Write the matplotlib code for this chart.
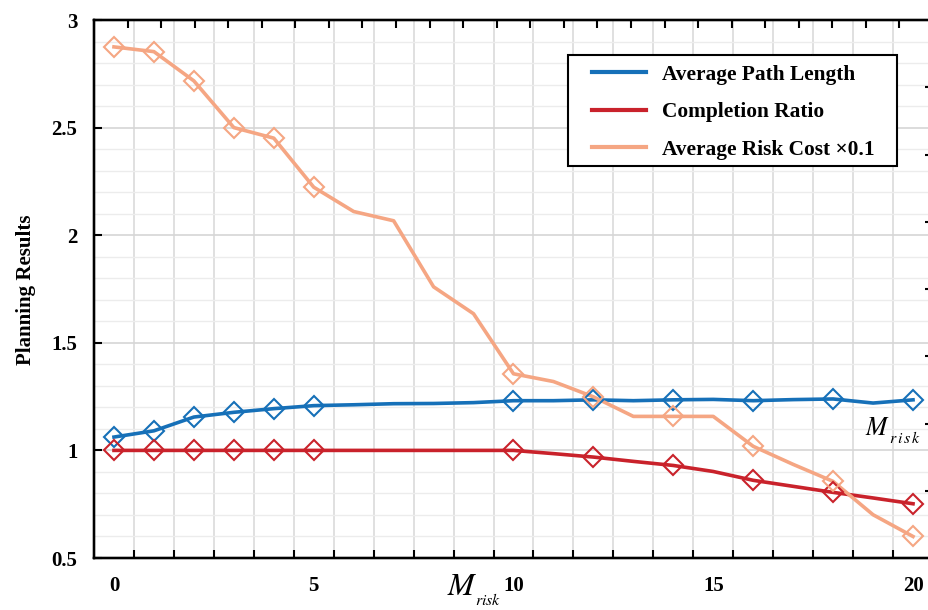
import numpy as np
import matplotlib
matplotlib.use("Agg")
import matplotlib.pyplot as plt
from matplotlib.patches import Rectangle

plt.rcParams['font.family'] = ['Liberation Serif', 'DejaVu Serif']
plt.rcParams['mathtext.fontset'] = 'stix'

# M_risk values and the three planning metrics
m_risk = list(range(21))
path_len = [1.062, 1.091, 1.155, 1.177, 1.194, 1.208, 1.212, 1.217, 1.218, 1.222, 1.231,
            1.231, 1.235, 1.231, 1.235, 1.237, 1.231, 1.236, 1.239, 1.220, 1.235]
completion = [1.0, 1.0, 1.0, 1.0, 1.0, 1.0, 1.0, 1.0, 1.0, 1.0, 1.0,
              0.985, 0.969, 0.949, 0.930, 0.902, 0.861, 0.833, 0.805, 0.779, 0.752]
risk_cost = [2.875, 2.853, 2.717, 2.50, 2.451, 2.223, 2.110, 2.067, 1.760, 1.635, 1.356,
             1.320, 1.249, 1.158, 1.158, 1.158, 1.019, 0.935, 0.856, 0.701, 0.600]
marker_idx = [0, 1, 2, 3, 4, 5, 10, 12, 14, 16, 18, 20]

series = [
    ('Average Path Length', path_len, '#1670b8'),
    ('Completion Ratio', completion, '#c9222b'),
    ('Average Risk Cost ×0.1', risk_cost, '#f5a683'),
]

fig = plt.figure(figsize=(9.29, 6.10), dpi=100)
ax = fig.add_axes([94 / 929, 1 - 558 / 610, (933 - 94) / 929, (558 - 20) / 610])

for name, vals, col in series:
    ax.plot(m_risk, vals, color=col, lw=2.6, label=name, zorder=3)
    ax.plot([m_risk[i] for i in marker_idx], [vals[i] for i in marker_idx], 'D',
            ms=10.5, mfc='none', mec=col, mew=1.5, zorder=4)

ax.set_xlim(-0.5, 20.5)
ax.set_ylim(0.5, 3)
ax.set_xticks([0, 5, 10, 15, 20])
ax.set_xticks(np.arange(0.5, 20.5, 1), minor=True)
ax.set_yticks([0.5, 1, 1.5, 2, 2.5, 3])
ax.set_yticklabels(['0.5', '1', '1.5', '2', '2.5', '3'])
ax.set_yticks(np.arange(0.5, 3.0, 0.1), minor=True)

ax.tick_params(axis='x', which='major', length=0, pad=13, labelsize=15)
ax.tick_params(axis='x', which='minor', direction='in', length=6, width=1.5, top=False)
ax.tick_params(axis='y', which='major', direction='in', length=6, width=1.5, pad=12, labelsize=15)
ax.tick_params(axis='y', which='minor', length=0)
for lab in ax.get_xticklabels() + ax.get_yticklabels():
    lab.set_fontweight('bold')

ax.grid(which='minor', axis='x', color='#dadada', lw=1.2, zorder=0)
ax.grid(which='major', axis='y', color='#d6d6d6', lw=1.2, zorder=0)
ax.grid(which='minor', axis='y', color='#ececec', lw=1.0, zorder=0)
ax.set_axisbelow(True)
for sp in ax.spines.values():
    sp.set_linewidth(1.6)

# extra tick rows on top and right
ax_top = ax.twiny()
ax_top.set_xlim(0, 25)
ax_top.set_xticks(range(1, 25))
ax_top.tick_params(axis='x', direction='in', length=6, width=1.5, labeltop=False)
ax_right = ax.twinx()
ax_right.set_ylim(0, 8)
ax_right.set_yticks(range(1, 8))
ax_right.tick_params(axis='y', direction='in', length=6, width=1.5, labelright=False)
for a in (ax_top, ax_right):
    for sp in a.spines.values():
        sp.set_linewidth(1.6)

# axis titles
fig.text(26 / 929, 1 - 290 / 610, 'Planning Results', rotation=90, fontsize=15,
         fontweight='bold', ha='center', va='center')
fig.text(447 / 929, 1 - 595 / 610, r'$M$', fontsize=23, ha='left', va='baseline')
fig.text(475 / 929, 1 - 605 / 610, r'$risk$', fontsize=11.5, ha='left', va='baseline')
ax.text(18.8, 1.073, r'$M$', fontsize=18.5, ha='left', va='baseline', zorder=5)
ax.text(19.4, 1.035, r'$r\,i\,s\,k$', fontsize=11.5, ha='left', va='baseline', zorder=5)

# legend frame drawn separately so its padding can be set freely
ax.add_patch(Rectangle((0.565, 0.7286), 0.392, 0.2063, transform=ax.transAxes,
                       facecolor='white', edgecolor='black', lw=1.5, zorder=9))
leg = ax.legend(loc='upper left', bbox_to_anchor=(0.5936, 0.9165), borderaxespad=0,
                frameon=False, prop={'weight': 'bold', 'size': 15.4}, handlelength=2.5,
                handletextpad=0.75, labelspacing=0.81, borderpad=0)
leg.set_zorder(10)
for h in leg.get_lines():
    h.set_linewidth(3)

fig.savefig('out.png', dpi=100)
